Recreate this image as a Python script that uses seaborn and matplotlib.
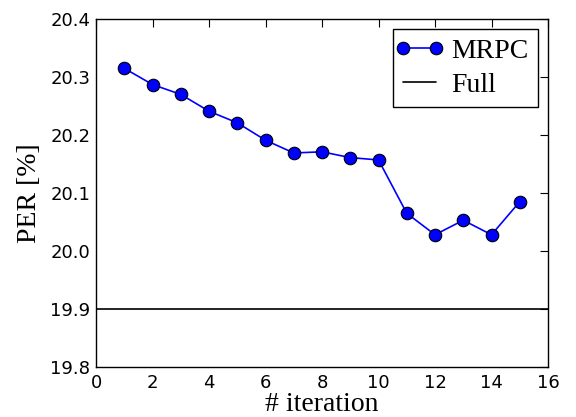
import seaborn as sns
import matplotlib.pyplot as plt
import pandas as pd
from matplotlib.legend_handler import HandlerLine2D

# PER per iteration for MRPC
iterations = [1, 2, 3, 4, 5, 6, 7, 8, 9, 10, 11, 12, 13, 14, 15]
mrpc_per = [20.315, 20.287, 20.270, 20.241, 20.221, 20.191, 20.169, 20.171,
            20.161, 20.157, 20.065, 20.028, 20.053, 20.028, 20.085]
full_per = 19.9

data = pd.DataFrame({'iteration': iterations, 'PER': mrpc_per})

sns.set_style('white')
plt.rcParams['xtick.direction'] = 'in'
plt.rcParams['ytick.direction'] = 'in'
plt.rcParams['text.color'] = 'black'
plt.rcParams['axes.labelcolor'] = 'black'

fig = plt.figure(figsize=(5.76, 4.17), dpi=100)
ax = fig.add_axes([0.1667, 0.12, 0.7847, 0.8344])

sns.lineplot(data=data, x='iteration', y='PER', ax=ax, color='blue',
             marker='o', markersize=9, markeredgecolor='black',
             markeredgewidth=0.8, linewidth=1.2, label='MRPC')
mrpc_line = ax.get_lines()[0]
ax.axhline(full_per, color='black', linewidth=1.2, label='Full')

ax.set_xlim(0, 16)
ax.set_ylim(19.8, 20.4)
ax.set_xticks(range(0, 17, 2))
ax.set_yticks([19.8, 19.9, 20.0, 20.1, 20.2, 20.3, 20.4])
ax.tick_params(axis='both', which='both', top=True, right=True, length=6,
               width=0.8, labelsize=13, colors='black')
ax.tick_params(axis='x', pad=5)
ax.tick_params(axis='y', pad=4)
for spine in ax.spines.values():
    spine.set_color('black')
    spine.set_linewidth(1.0)

serif = {'family': 'Liberation Serif', 'size': 20, 'color': 'black'}
ax.set_xlabel('# iteration', fontdict=serif, labelpad=0)
ax.set_ylabel('PER [%]', fontdict=serif, labelpad=6)

leg = ax.legend(loc='upper right', prop={'family': 'Liberation Serif', 'size': 20},
                fancybox=False, framealpha=1, edgecolor='black', labelcolor='black',
                handler_map={mrpc_line: HandlerLine2D(marker_pad=0, numpoints=2)},
                borderpad=0.35, labelspacing=0.3, handlelength=1.2,
                handletextpad=0.55, borderaxespad=0.35)
leg.get_frame().set_linewidth(1.0)

plt.savefig('out.png', dpi=100)
